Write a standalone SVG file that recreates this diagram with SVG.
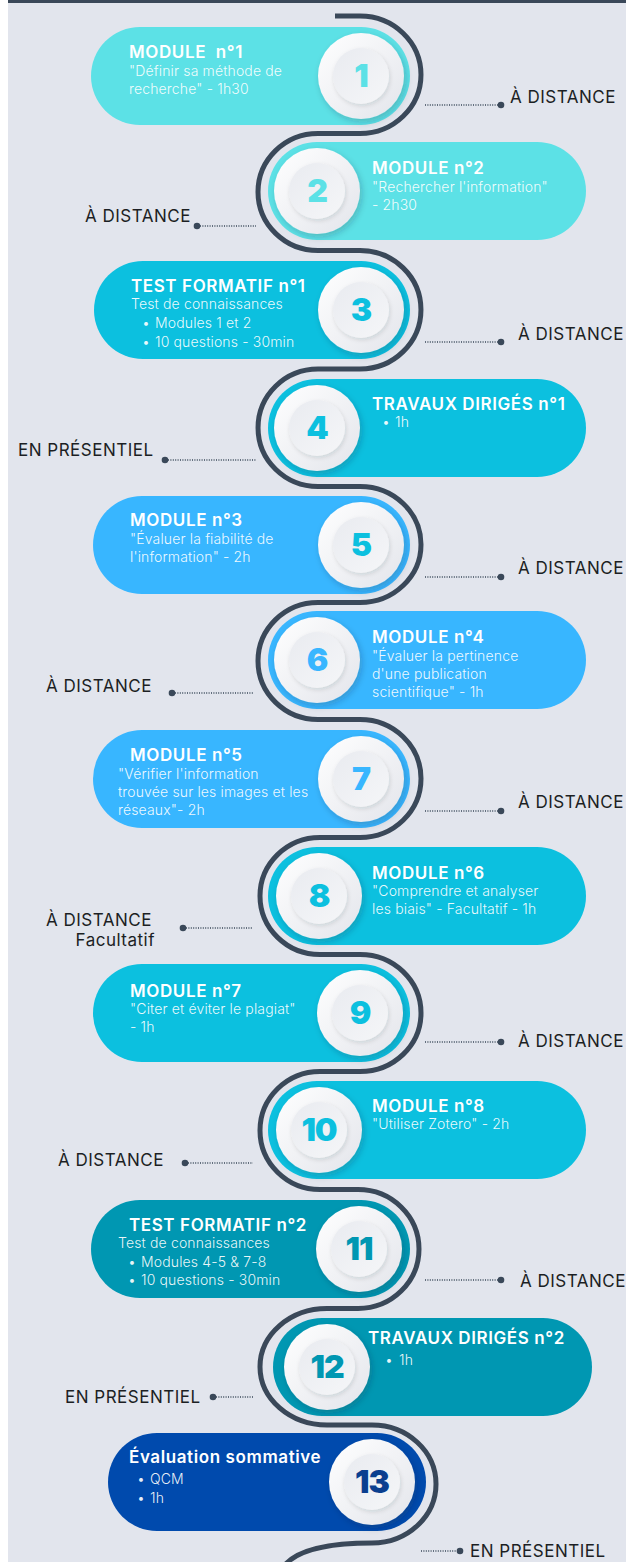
<svg xmlns="http://www.w3.org/2000/svg" width="626" height="1562" viewBox="0 0 626 1562">
<style>
.bg{fill:#e2e5ed}
.t{font-family:Inter,'Open Sans','Liberation Sans',sans-serif;font-size:17px;font-weight:600;fill:#ffffff;letter-spacing:0.6px}
.s{font-family:Inter,'Open Sans','Liberation Sans',sans-serif;font-size:14px;font-weight:300;fill:#ffffff;fill-opacity:0.92;letter-spacing:0.15px}
.lab{font-family:Inter,'Open Sans','Liberation Sans',sans-serif;font-size:17px;font-weight:400;fill:#1c1f24;letter-spacing:0.5px}
.num{font-family:Inter,'Lato','Liberation Sans',sans-serif;font-size:32px;font-weight:900;text-anchor:middle;letter-spacing:-1px}
.track{fill:none;stroke:#3a4859;stroke-width:5;stroke-linecap:butt}
.dots{fill:none;stroke:#3a4859;stroke-width:1.4;stroke-dasharray:1 1.4}
.dot{fill:#3a4859}
.c1{fill:#5ce1e6}.c2{fill:#0cc0df}.c3{fill:#38b6ff}.c4{fill:#0097b2}.c5{fill:#004aad}
.n1{fill:#5ce1e6}.n2{fill:#0cc0df}.n3{fill:#38b6ff}.n4{fill:#0097b2}.n5{fill:#0b3f8f}
.outer{fill:url(#gOut);filter:url(#sh)}
.inner{fill:url(#gIn);filter:url(#sh2)}
</style>
<defs>
<linearGradient id="gOut" x1="0" y1="0" x2="1" y2="1"><stop offset="0" stop-color="#ffffff"/><stop offset="1" stop-color="#e3e5eb"/></linearGradient>
<linearGradient id="gIn" x1="0" y1="0" x2="1" y2="1"><stop offset="0" stop-color="#e9ebf0"/><stop offset="1" stop-color="#f5f6f8"/></linearGradient>
<filter id="sh" x="-30%" y="-30%" width="160%" height="160%"><feDropShadow dx="2" dy="3" stdDeviation="3" flood-color="#1d2a3a" flood-opacity="0.22"/></filter>
<filter id="sh2" x="-30%" y="-30%" width="160%" height="160%"><feDropShadow dx="1" dy="2" stdDeviation="2" flood-color="#1d2a3a" flood-opacity="0.13"/></filter>
</defs>
<rect x="0" y="0" width="626" height="1562" fill="#ffffff"/>
<rect class="bg" x="8" y="0" width="618" height="1562"/>
<rect x="8" y="0" width="618" height="3" fill="#3a4859"/>

<g id="connectors">
<path class="track" d="M335 16 L360 16 A61 58.75 0 0 1 360 133.5 L318 133.5 A60 58.5 0 0 0 318 250.5 L360 250.5 A61 59.25 0 0 1 360 369 L318 369 A60 58.75 0 0 0 318 486.5 L360 486.5 A61 58 0 0 1 360 602.5 L318 602.5 A60 58.5 0 0 0 318 719.5 L360 719.5 A61 59 0 0 1 360 837.5 L320 837.5 A60 58.5 0 0 0 320 954.5 L360 954.5 A61 58.5 0 0 1 360 1071.5 L320 1071.5 A60 59 0 0 0 320 1189.5 L358 1189.5 A61 59.5 0 0 1 358 1308.5 L327 1308.5 A67 58.25 0 0 0 327 1425 L372 1425 A64 59 0 0 1 372 1543 C340 1543 300 1546 284 1566"/>
<path class="dots" d="M425 105 H498"/><circle class="dot" cx="501" cy="105" r="3.3"/>
<path class="dots" d="M200 226 H256"/><circle class="dot" cx="197" cy="226" r="3.3"/>
<path class="dots" d="M425 342 H498"/><circle class="dot" cx="501" cy="342" r="3.3"/>
<path class="dots" d="M168 460 H256"/><circle class="dot" cx="165" cy="460" r="3.3"/>
<path class="dots" d="M425 577 H498"/><circle class="dot" cx="501" cy="577" r="3.3"/>
<path class="dots" d="M175 693 H253"/><circle class="dot" cx="172" cy="693" r="3.3"/>
<path class="dots" d="M425 811 H498"/><circle class="dot" cx="501" cy="811" r="3.3"/>
<path class="dots" d="M186 928 H253"/><circle class="dot" cx="183" cy="928" r="3.3"/>
<path class="dots" d="M425 1042 H498"/><circle class="dot" cx="501" cy="1042" r="3.3"/>
<path class="dots" d="M188 1163 H253"/><circle class="dot" cx="185" cy="1163" r="3.3"/>
<path class="dots" d="M425 1280 H498"/><circle class="dot" cx="501" cy="1280" r="3.3"/>
<path class="dots" d="M216 1397 H253"/><circle class="dot" cx="213" cy="1397" r="3.3"/>
<path class="dots" d="M421 1551 H457"/><circle class="dot" cx="460" cy="1551" r="3.3"/>
</g>

<g id="node1">
<rect class="c1" x="91" y="27" width="319" height="98" rx="49"/>
<circle class="outer" cx="361" cy="76" r="43"/><circle class="inner" cx="361" cy="76" r="28"/>
<text class="num n1" x="361" y="87">1</text>
<text class="t" x="129" y="58" xml:space="preserve">MODULE  n°1</text>
<text class="s" x="129" y="76">"Définir sa méthode de</text>
<text class="s" x="129" y="94">recherche" - 1h30</text>
<text class="lab" x="510" y="103">À DISTANCE</text>
</g>

<g id="node2">
<rect class="c1" x="268" y="142" width="318" height="98" rx="49"/>
<circle class="outer" cx="317" cy="191" r="43"/><circle class="inner" cx="317" cy="191" r="28"/>
<text class="num n1" x="317" y="202">2</text>
<text class="t" x="372" y="174">MODULE n°2</text>
<text class="s" x="372" y="192">"Rechercher l'information"</text>
<text class="s" x="372" y="210">- 2h30</text>
<text class="lab" x="85" y="222">À DISTANCE</text>
</g>

<g id="node3">
<rect class="c2" x="94" y="261" width="316" height="98" rx="49"/>
<circle class="outer" cx="361" cy="310" r="43"/><circle class="inner" cx="361" cy="310" r="28"/>
<text class="num n2" x="361" y="321">3</text>
<text class="t" x="131" y="292">TEST FORMATIF n°1</text>
<text class="s" x="131" y="309">Test de connaissances</text>
<text class="s" x="142" y="328">•</text><text class="s" x="155" y="328">Modules 1 et 2</text>
<text class="s" x="142" y="347">•</text><text class="s" x="155" y="347">10 questions - 30min</text>
<text class="lab" x="518" y="340">À DISTANCE</text>
</g>

<g id="node4">
<rect class="c2" x="268" y="379" width="318" height="98" rx="49"/>
<circle class="outer" cx="317" cy="428" r="43"/><circle class="inner" cx="317" cy="428" r="28"/>
<text class="num n2" x="317" y="439">4</text>
<text class="t" x="372" y="410">TRAVAUX DIRIGÉS n°1</text>
<text class="s" x="382" y="427">•</text><text class="s" x="395" y="427">1h</text>
<text class="lab" x="18" y="456">EN PRÉSENTIEL</text>
</g>

<g id="node5">
<rect class="c3" x="93" y="496" width="317" height="98" rx="49"/>
<circle class="outer" cx="361" cy="545" r="43"/><circle class="inner" cx="361" cy="545" r="28"/>
<text class="num n2" x="361" y="556">5</text>
<text class="t" x="130" y="526">MODULE n°3</text>
<text class="s" x="130" y="544">"Évaluer la fiabilité de</text>
<text class="s" x="130" y="562">l'information" - 2h</text>
<text class="lab" x="518" y="574">À DISTANCE</text>
</g>

<g id="node6">
<rect class="c3" x="268" y="611" width="318" height="98" rx="49"/>
<circle class="outer" cx="317" cy="660" r="43"/><circle class="inner" cx="317" cy="660" r="28"/>
<text class="num n3" x="317" y="671">6</text>
<text class="t" x="372" y="643">MODULE n°4</text>
<text class="s" x="372" y="661">"Évaluer la pertinence</text>
<text class="s" x="372" y="679">d'une publication</text>
<text class="s" x="372" y="697">scientifique" - 1h</text>
<text class="lab" x="46" y="692">À DISTANCE</text>
</g>

<g id="node7">
<rect class="c3" x="93" y="730" width="317" height="98" rx="49"/>
<circle class="outer" cx="361" cy="779" r="43"/><circle class="inner" cx="361" cy="779" r="28"/>
<text class="num n3" x="361" y="790">7</text>
<text class="t" x="130" y="761">MODULE n°5</text>
<text class="s" x="118" y="779">"Vérifier l'information</text>
<text class="s" x="118" y="797">trouvée sur les images et les</text>
<text class="s" x="118" y="815">réseaux"- 2h</text>
<text class="lab" x="518" y="808">À DISTANCE</text>
</g>

<g id="node8">
<rect class="c2" x="268" y="847" width="318" height="98" rx="49"/>
<circle class="outer" cx="319" cy="896" r="43"/><circle class="inner" cx="319" cy="896" r="28"/>
<text class="num n2" x="319" y="907">8</text>
<text class="t" x="372" y="879">MODULE n°6</text>
<text class="s" x="372" y="896">"Comprendre et analyser</text>
<text class="s" x="372" y="914">les biais" - Facultatif - 1h</text>
<text class="lab" x="46" y="926">À DISTANCE</text>
<text class="lab" x="155" y="946" text-anchor="end">Facultatif</text>
</g>

<g id="node9">
<rect class="c2" x="93" y="964" width="317" height="98" rx="49"/>
<circle class="outer" cx="360" cy="1013" r="43"/><circle class="inner" cx="360" cy="1013" r="28"/>
<text class="num n2" x="360" y="1024">9</text>
<text class="t" x="130" y="997">MODULE n°7</text>
<text class="s" x="130" y="1014">"Citer et éviter le plagiat"</text>
<text class="s" x="130" y="1032">- 1h</text>
<text class="lab" x="518" y="1047">À DISTANCE</text>
</g>

<g id="node10">
<rect class="c2" x="268" y="1081" width="318" height="98" rx="49"/>
<circle class="outer" cx="319" cy="1130" r="43"/><circle class="inner" cx="319" cy="1130" r="28"/>
<text class="num n2" x="319" y="1141">10</text>
<text class="t" x="372" y="1112">MODULE n°8</text>
<text class="s" x="372" y="1129">"Utiliser Zotero" - 2h</text>
<text class="lab" x="58" y="1166">À DISTANCE</text>
</g>

<g id="node11">
<rect class="c4" x="91" y="1200" width="319" height="98" rx="49"/>
<circle class="outer" cx="359" cy="1249" r="43"/><circle class="inner" cx="359" cy="1249" r="28"/>
<text class="num n4" x="359" y="1260">11</text>
<text class="t" x="129" y="1231">TEST FORMATIF n°2</text>
<text class="s" x="118" y="1248">Test de connaissances</text>
<text class="s" x="128" y="1267">•</text><text class="s" x="141" y="1267">Modules 4-5 &amp; 7-8</text>
<text class="s" x="128" y="1285">•</text><text class="s" x="141" y="1285">10 questions - 30min</text>
<text class="lab" x="520" y="1287">À DISTANCE</text>
</g>

<g id="node12">
<rect class="c4" x="273" y="1318" width="319" height="98" rx="49"/>
<circle class="outer" cx="327" cy="1367" r="43"/><circle class="inner" cx="327" cy="1367" r="28"/>
<text class="num n4" x="327" y="1378">12</text>
<text class="t" x="368" y="1344">TRAVAUX DIRIGÉS n°2</text>
<text class="s" x="385" y="1365">•</text><text class="s" x="399" y="1365">1h</text>
<text class="lab" x="65" y="1403">EN PRÉSENTIEL</text>
</g>

<g id="node13">
<rect class="c5" x="108" y="1433" width="318" height="98" rx="49"/>
<circle class="outer" cx="372" cy="1482" r="43"/><circle class="inner" cx="372" cy="1482" r="28"/>
<text class="num n5" x="372" y="1493">13</text>
<text class="t" x="129" y="1463">Évaluation sommative</text>
<text class="s" x="137" y="1484">•</text><text class="s" x="150" y="1484">QCM</text>
<text class="s" x="137" y="1503">•</text><text class="s" x="150" y="1503">1h</text>
<text class="lab" x="470" y="1557">EN PRÉSENTIEL</text>
</g>
</svg>
